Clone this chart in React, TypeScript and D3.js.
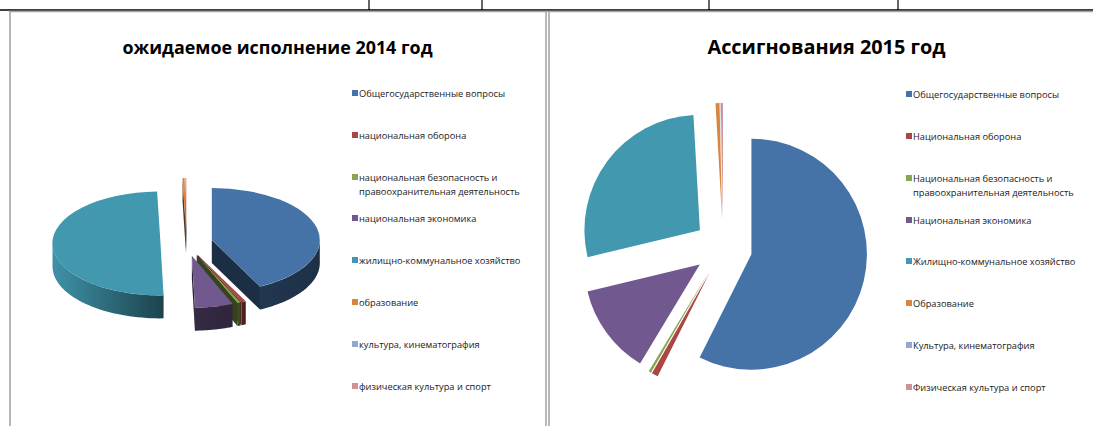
import React from "react";
import * as d3 from "d3";

const width = 1093;
const height = 426;

// shares, in percent
const labels2014 = [
  "Общегосударственные вопросы",
  "национальная оборона",
  "национальная безопасность и|правоохранительная деятельность",
  "национальная экономика",
  "жилищно-коммунальное хозяйство",
  "образование",
  "культура, кинематография",
  "физическая культура и спорт",
];
const values2014 = [42.6, 0.7, 0.5, 5.7, 49.9, 0.3, 0.05, 0.15];

const labels2015 = [
  "Общегосударственные вопросы",
  "Национальная оборона",
  "Национальная безопасность и|правоохранительная деятельность",
  "Национальная экономика",
  "Жилищно-коммунальное хозяйство",
  "Образование",
  "Культура, кинематография",
  "Физическая культура и спорт",
];
const values2015 = [57.4, 0.9, 0.35, 12.6, 27.85, 0.55, 0.05, 0.3];

const colors = [
  "#4572a7",
  "#aa4643",
  "#89a54e",
  "#71588f",
  "#4198af",
  "#db843d",
  "#93a9cf",
  "#d19392",
];

const legendRows2014 = [93, 135, 177, 218, 260, 302, 344, 386];
const legendRows2015 = [94, 136, 178, 220, 261, 303, 345, 387];
const tableTicks = [369, 482, 709, 898];
const frameLines = [10, 546, 549];

const fontFamily = "'Open Sans', 'Noto Sans', sans-serif";
const pieLayout = d3
  .pie<number>()
  .sort(null)
  .startAngle(0)
  .endAngle(2 * Math.PI);

function Legend({ labels, rows, x }: { labels: string[]; rows: number[]; x: number }) {
  return (
    <g>
      {labels.map((label, i) => (
        <g key={label}>
          <rect x={x} y={rows[i] - 3} width={6} height={6} fill={colors[i]} />
          {label.split("|").map((line, j) => (
            <text
              key={line}
              x={x + 7}
              y={rows[i] + 3.5 + j * 14}
              fontSize={9.25}
              fontFamily={fontFamily}
              fill="#1a1a1a"
            >
              {line}
            </text>
          ))}
        </g>
      ))}
    </g>
  );
}

function Pie3D() {
  const cx = 186.5,
    cy = 243,
    rx = 108,
    ry = 52,
    depth = 23,
    explodeX = 26,
    explodeY = 13;

  const arc = d3.arc<d3.PieArcDatum<number>>().innerRadius(0).outerRadius(rx);
  const line = d3.line();
  const slices = pieLayout(values2014);

  // points on the rim of the tilted pie
  const rim = (a: number): [number, number] => [rx * Math.sin(a), -ry * Math.cos(a)];

  // back slices first so the front ones cover them
  const ordered = slices
    .slice()
    .sort(
      (a, b) =>
        Math.cos((b.startAngle + b.endAngle) / 2) - Math.cos((a.startAngle + a.endAngle) / 2)
    );

  return (
    <g>
      <defs>
        {colors.map((c, i) => (
          <linearGradient key={c} id={"wall-" + i} x1="0" x2="1" y1="0" y2="0">
            <stop offset="0" stopColor={d3.interpolateRgb(c, "#000")(i === 4 ? 0.04 : 0.52)} />
            <stop offset="1" stopColor={d3.interpolateRgb(c, "#000")(i === 4 ? 0.56 : 0.58)} />
          </linearGradient>
        ))}
      </defs>
      {ordered.map((d) => {
        const i = d.index;
        const mid = (d.startAngle + d.endAngle) / 2;
        const dx = cx + explodeX * Math.sin(mid);
        const dy = cy - explodeY * Math.cos(mid);
        const dark = d3.interpolateRgb(colors[i], "#000")(0.6);

        // outer wall, only the part that faces the viewer
        const from = Math.max(d.startAngle, Math.PI / 2);
        const to = Math.min(d.endAngle, (3 * Math.PI) / 2);
        let wall = null;
        if (to > from) {
          const top = d3.range(0, 41).map((k) => rim(from + ((to - from) * k) / 40));
          const bottom = top.map(([x, y]) => [x, y + depth] as [number, number]).reverse();
          wall = <path d={line([...top, ...bottom]) + "Z"} fill={`url(#wall-${i})`} />;
        }

        // cut faces between the centre and the rim
        const faces = [
          { a: d.startAngle, visible: Math.cos(d.startAngle - Math.PI / 2) < 0 },
          { a: d.endAngle, visible: Math.cos(d.endAngle + Math.PI / 2) < 0 },
        ].filter((f) => f.visible);

        return (
          <g key={i} transform={`translate(${dx},${dy})`}>
            {faces.map((f) => {
              const [x, y] = rim(f.a);
              const pts: [number, number][] = [
                [0, 0],
                [x, y],
                [x, y + depth],
                [0, depth],
              ];
              return <path key={f.a} d={line(pts) + "Z"} fill={dark} />;
            })}
            {wall}
            <path transform={`scale(1,${ry / rx})`} d={arc(d) || ""} fill={colors[i]} />
          </g>
        );
      })}
    </g>
  );
}

function PieFlat() {
  const cx = 723.2,
    cy = 247.5,
    radius = 115.5,
    explode = 29;

  const arc = d3.arc<d3.PieArcDatum<number>>().innerRadius(0).outerRadius(radius);
  const slices = pieLayout(values2015);

  return (
    <g>
      {slices.map((d) => {
        const mid = (d.startAngle + d.endAngle) / 2;
        const dx = cx + explode * Math.sin(mid);
        const dy = cy - explode * Math.cos(mid);
        return (
          <path
            key={d.index}
            transform={`translate(${dx},${dy})`}
            d={arc(d) || ""}
            fill={colors[d.index]}
          />
        );
      })}
    </g>
  );
}

export default function App() {
  return (
    <svg
      width={width}
      height={height}
      style={{ position: "absolute", left: 0, top: 0, display: "block", background: "#fff" }}
    >
      {/* bits of the table above the charts */}
      <line x1={0} x2={width} y1={10} y2={10} stroke="#000" strokeWidth={1.5} />
      {tableTicks.map((x) => (
        <line key={x} x1={x} x2={x} y1={0} y2={10} stroke="#000" strokeWidth={1.2} />
      ))}
      {/* chart frames */}
      <line x1={9} x2={width} y1={11.5} y2={11.5} stroke="#a6a6a6" strokeWidth={1.5} />
      {frameLines.map((x) => (
        <line key={x} x1={x} x2={x} y1={11} y2={height} stroke="#a6a6a6" strokeWidth={1.6} />
      ))}

      <text
        x={277.5}
        y={54}
        textAnchor="middle"
        fontSize={17.9}
        fontWeight="bold"
        fontFamily={fontFamily}
        fill="#000"
      >
        ожидаемое исполнение 2014 год
      </text>
      <text
        x={826.5}
        y={54}
        textAnchor="middle"
        fontSize={19.9}
        fontWeight="bold"
        fontFamily={fontFamily}
        fill="#000"
      >
        Ассигнования 2015 год
      </text>

      <Pie3D />
      <Legend labels={labels2014} rows={legendRows2014} x={352} />
      <PieFlat />
      <Legend labels={labels2015} rows={legendRows2015} x={906} />
    </svg>
  );
}
